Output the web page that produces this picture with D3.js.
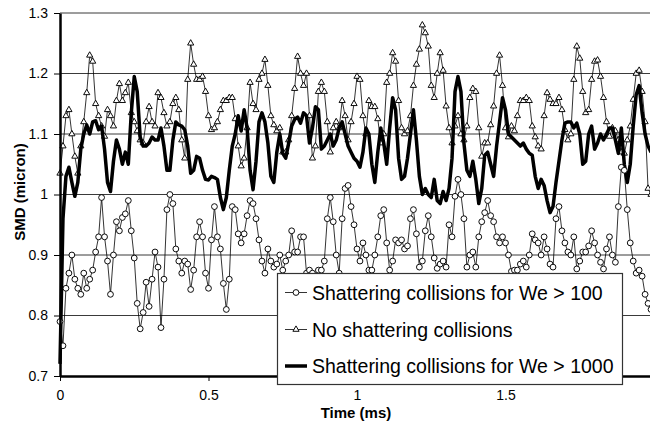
<!DOCTYPE html>
<html>
<head>
<meta charset="utf-8">
<script src="https://cdn.jsdelivr.net/npm/d3@7"></script>
<style>
  body { margin: 0; background: #fff; }
  text { font-family: "Liberation Sans", Arial, sans-serif; }
</style>
</head>
<body>
<script>
var svgWidth = 650;
var svgHeight = 424;

// time step between samples (ms)
var timeStep = 0.01;

var xTicks = [0, 0.5, 1, 1.5, 2];
var xTickLabels = ["0", "0.5", "1", "1.5", "2"];
var yTicks = [0.7, 0.8, 0.9, 1.0, 1.1, 1.2, 1.3];
var yTickLabels = ["0.7", "0.8", "0.9", "1", "1.1", "1.2", "1.3"];
var gridValues = [0.8, 0.9, 1.0, 1.1, 1.2, 1.3];

var seriesNames = [
  "Shattering collisions for We > 100",
  "No shattering collisions",
  "Shattering collisions for We > 1000"
];

// SMD (micron), shattering for We > 100 (circles)
var smdWe100 = [
  0.79, 0.75, 0.845, 0.87, 0.9, 0.86, 0.845, 0.835, 0.87, 0.845,
  0.86, 0.875, 0.905, 0.93, 0.995, 0.93, 0.89, 0.835, 0.9, 0.955,
  0.94, 0.962, 0.968, 0.99, 0.94, 0.895, 0.82, 0.778, 0.805, 0.855,
  0.815, 0.86, 0.905, 0.88, 0.78, 0.86, 0.975, 1.0, 0.985, 0.91,
  0.89, 0.87, 0.89, 0.885, 0.843, 0.875, 0.93, 0.955, 0.93, 0.87,
  0.845, 0.925, 0.98, 0.93, 0.91, 0.853, 0.81, 0.86, 0.98, 0.975,
  0.935, 0.92, 0.935, 0.965, 0.99, 0.985, 0.96, 0.925, 0.89, 0.87,
  0.91, 0.89, 0.88, 0.885, 0.9, 0.875, 0.89, 0.9, 0.94, 0.905,
  0.905, 0.93, 0.93, 0.87, 0.875, 0.87, 0.865, 0.875, 0.875, 0.89,
  0.96, 0.995, 0.955, 0.9, 0.87, 0.96, 1.01, 1.015, 0.98, 0.95,
  0.91, 0.89, 0.92, 0.9, 0.875, 0.875, 0.9, 0.93, 0.965, 0.975,
  0.92, 0.875, 0.89, 0.925, 0.92, 0.925, 0.91, 0.915, 0.96, 0.975,
  0.935, 0.88, 0.89, 0.94, 0.965, 0.93, 0.895, 0.878, 0.885, 0.89,
  0.88, 0.95, 0.93, 0.997, 1.025, 1.0, 0.96, 0.88, 0.9, 0.905,
  0.88, 0.93, 0.955, 0.97, 0.99, 0.965, 0.955, 0.93, 0.92, 0.93,
  0.92, 0.9, 0.873, 0.875, 0.875, 0.885, 0.89, 0.88, 0.9, 0.935,
  0.925, 0.92, 0.9, 0.93, 0.91, 0.885, 0.88, 0.96, 0.98, 0.94,
  0.92, 0.905, 0.9, 0.93, 0.877, 0.89, 0.905, 0.905, 0.915, 0.94,
  0.92, 0.9, 0.888, 0.877, 0.91, 0.93, 0.9, 0.888, 0.98, 1.045,
  1.04, 0.975, 0.92, 0.89, 0.87, 0.875, 0.865, 0.835, 0.82, 0.81
];

// SMD (micron), no shattering (triangles)
var smdNoShatter = [
  1.035, 1.08, 1.13, 1.14, 1.10, 1.063, 1.035, 1.08, 1.12, 1.168,
  1.23, 1.22, 1.15, 1.13, 1.113, 1.096, 1.14, 1.13, 1.113, 1.155,
  1.183, 1.155, 1.168, 1.185, 1.135, 1.12, 1.105, 1.09, 1.085, 1.12,
  1.145, 1.12, 1.113, 1.168, 1.16, 1.135, 1.113, 1.12, 1.15, 1.16,
  1.14, 1.09, 1.06, 1.19, 1.25, 1.215, 1.19, 1.19, 1.195, 1.17,
  1.13, 1.107, 1.11, 1.12, 1.14, 1.155, 1.155, 1.16, 1.16, 1.125,
  1.08, 1.047, 1.06, 1.11, 1.185, 1.15, 1.14, 1.19, 1.2, 1.223,
  1.18, 1.13, 1.115, 1.105, 1.11, 1.07, 1.07, 1.09, 1.13, 1.175,
  1.228, 1.2, 1.18, 1.2, 1.13, 1.06, 1.08, 1.17, 1.185, 1.17,
  1.12, 1.07, 1.11, 1.12, 1.11, 1.155, 1.13, 1.09, 1.12, 1.15,
  1.195, 1.19, 1.13, 1.1, 1.155, 1.145, 1.145, 1.125, 1.085, 1.1,
  1.185, 1.2, 1.234, 1.22, 1.155, 1.11, 1.1, 1.105, 1.13, 1.18,
  1.215, 1.24, 1.28, 1.267, 1.245, 1.18, 1.16, 1.2, 1.234, 1.205,
  1.146, 1.11, 1.085, 1.113, 1.13, 1.1, 1.09, 1.113, 1.16, 1.175,
  1.17, 1.11, 1.063, 1.085, 1.085, 1.115, 1.146, 1.2, 1.23, 1.18,
  1.11, 1.095, 1.113, 1.105, 1.13, 1.155, 1.155, 1.16, 1.155, 1.113,
  1.095, 1.08, 1.075, 1.13, 1.168, 1.157, 1.15, 1.15, 1.16, 1.14,
  1.107, 1.09, 1.1, 1.19, 1.245, 1.225, 1.17, 1.135, 1.14, 1.19,
  1.22, 1.222, 1.195, 1.16, 1.12, 1.096, 1.11, 1.105, 1.09, 1.07,
  1.068, 1.09, 1.113, 1.157, 1.2, 1.205, 1.17, 1.12, 1.01, 1.0
];

// SMD (micron), shattering for We > 1000 (thick line)
var smdWe1000 = [
  0.72, 0.96, 1.03, 1.045, 1.02, 0.997, 1.02, 1.075, 1.1, 1.115,
  1.1, 1.12, 1.122, 1.107, 1.113, 1.075, 1.02, 1.005, 1.055, 1.09,
  1.075, 1.05, 1.07, 1.05, 1.135, 1.195, 1.17, 1.095, 1.08, 1.08,
  1.085, 1.095, 1.09, 1.09, 1.11, 1.08, 1.04, 1.04, 1.09, 1.12,
  1.115, 1.113, 1.107, 1.08, 1.035, 1.04, 1.063, 1.06, 1.04, 1.025,
  1.024, 1.03, 1.028, 1.025, 0.995, 0.975, 0.995, 1.04, 1.08, 1.1,
  1.13, 1.105, 1.14, 1.11, 1.04, 1.008, 1.055, 1.12, 1.135, 1.12,
  1.085, 1.03, 1.02, 1.07, 1.1, 1.068, 1.06, 1.085, 1.113, 1.124,
  1.128, 1.118, 1.135, 1.13, 1.085, 1.11, 1.145, 1.14, 1.075, 1.08,
  1.09, 1.1, 1.08, 1.09, 1.11, 1.12, 1.1, 1.08, 1.07, 1.06,
  1.055, 1.045, 1.07, 1.11, 1.1, 1.05, 1.02, 1.07, 1.11, 1.085,
  1.05, 1.11, 1.16, 1.14, 1.06, 1.025, 1.03, 1.06, 1.1, 1.14,
  1.09, 1.03, 1.0, 1.01, 1.0, 0.995, 1.025, 0.99, 0.985, 1.005,
  0.99, 1.01, 1.06, 1.17, 1.195, 1.17, 1.085, 1.04, 1.03, 1.055,
  1.025, 0.985, 1.01, 1.065, 1.07, 1.05, 1.03, 1.08, 1.12, 1.16,
  1.14, 1.1, 1.095, 1.09, 1.085, 1.08, 1.085, 1.075, 1.068, 1.065,
  1.03, 1.01, 1.025, 1.015, 0.99, 0.97, 0.98, 1.02, 1.055, 1.09,
  1.118, 1.12, 1.12, 1.11, 1.118, 1.1, 1.05, 1.055, 1.1, 1.113,
  1.075, 1.085, 1.1, 1.09, 1.1, 1.11, 1.11, 1.09, 1.068, 1.11,
  1.05, 1.02, 1.05, 1.113, 1.165, 1.18, 1.135, 1.1, 1.08, 1.07
];

var svg = d3.select("body")
  .append("svg")
  .attr("width", svgWidth)
  .attr("height", svgHeight);

var xScale = d3.scaleLinear().domain([0, 2]).range([60, 654]);
var yScale = d3.scaleLinear().domain([0.7, 1.3]).range([376, 13]);

function toPoints(values) {
  return values.map(function(v, i) { return { t: i * timeStep, v: v }; });
}

// gridlines
svg.append("g")
  .selectAll("line")
  .data(gridValues)
  .enter()
  .append("line")
  .attr("x1", 60)
  .attr("x2", svgWidth)
  .attr("y1", d => yScale(d))
  .attr("y2", d => yScale(d))
  .attr("stroke", "#3a3a3a")
  .attr("stroke-width", 1);

var line = d3.line()
  .x(d => xScale(d.t))
  .y(d => yScale(d.v));

var triPath = "M0,-3.6L3.1,1.8L-3.1,1.8Z";

// no shattering: thin line + triangles
var noShatter = toPoints(smdNoShatter);
svg.append("path")
  .datum(noShatter)
  .attr("d", line)
  .attr("fill", "none")
  .attr("stroke", "#000")
  .attr("stroke-width", 0.8);

svg.append("g")
  .selectAll("path")
  .data(noShatter)
  .enter()
  .append("path")
  .attr("d", triPath)
  .attr("transform", d => `translate(${xScale(d.t)},${yScale(d.v)})`)
  .attr("fill", "#fff")
  .attr("stroke", "#000")
  .attr("stroke-width", 0.95);

// We > 1000: thick line
svg.append("path")
  .datum(toPoints(smdWe1000))
  .attr("d", line)
  .attr("fill", "none")
  .attr("stroke", "#000")
  .attr("stroke-width", 3.5)
  .attr("stroke-linejoin", "round");

// We > 100: thin line + circles
var we100 = toPoints(smdWe100);
svg.append("path")
  .datum(we100)
  .attr("d", line)
  .attr("fill", "none")
  .attr("stroke", "#000")
  .attr("stroke-width", 0.8);

svg.append("g")
  .selectAll("circle")
  .data(we100)
  .enter()
  .append("circle")
  .attr("cx", d => xScale(d.t))
  .attr("cy", d => yScale(d.v))
  .attr("r", 2.9)
  .attr("fill", "#fff")
  .attr("stroke", "#000")
  .attr("stroke-width", 0.95);

// axes
var LeftAxe = d3.axisLeft(yScale)
  .tickValues(yTicks)
  .tickFormat((d, i) => yTickLabels[i])
  .tickSize(6)
  .tickSizeOuter(0)
  .tickPadding(6);

var BotAxe = d3.axisBottom(xScale)
  .tickValues(xTicks)
  .tickFormat((d, i) => xTickLabels[i])
  .tickSize(5)
  .tickSizeOuter(0)
  .tickPadding(9);

var gy = svg.append("g")
  .attr("transform", "translate(60,0)")
  .call(LeftAxe);

var gx = svg.append("g")
  .attr("transform", "translate(0,376)")
  .call(BotAxe);

[gx, gy].forEach(function(g) {
  g.select(".domain").attr("stroke", "#000").attr("stroke-width", 2.5);
  g.selectAll(".tick line").attr("stroke", "#000").attr("stroke-width", 1);
  g.selectAll(".tick text")
    .attr("fill", "#000")
    .style("font-size", "14px")
    .style("font-family", "'Liberation Sans', Arial, sans-serif");
});

// axis titles
svg.append("text")
  .attr("transform", "rotate(-90)")
  .attr("x", -192)
  .attr("y", 25)
  .style("text-anchor", "middle")
  .style("font-size", "15px")
  .style("font-weight", "bold")
  .text("SMD (micron)");

svg.append("text")
  .attr("x", 356)
  .attr("y", 418)
  .style("text-anchor", "middle")
  .style("font-size", "15px")
  .style("font-weight", "bold")
  .text("Time (ms)");

// legend
var legend = svg.append("g");
legend.append("rect")
  .attr("x", 277.5)
  .attr("y", 273.5)
  .attr("width", 345)
  .attr("height", 111)
  .attr("fill", "#fff")
  .attr("stroke", "#333")
  .attr("stroke-width", 1.2);

var rowY = [292.5, 329.5, 366];

seriesNames.forEach(function(name, i) {
  var y0 = rowY[i];
  legend.append("line")
    .attr("x1", 285).attr("x2", 307)
    .attr("y1", y0).attr("y2", y0)
    .attr("stroke", "#000")
    .attr("stroke-width", i === 2 ? 3.5 : 0.8);
  if (i === 0) {
    legend.append("circle")
      .attr("cx", 296).attr("cy", y0).attr("r", 2.9)
      .attr("fill", "#fff").attr("stroke", "#000").attr("stroke-width", 0.95);
  } else if (i === 1) {
    legend.append("path")
      .attr("d", triPath)
      .attr("transform", `translate(296,${y0})`)
      .attr("fill", "#fff").attr("stroke", "#000").attr("stroke-width", 0.95);
  }
  legend.append("text")
    .attr("x", 312)
    .attr("y", y0 + 7)
    .style("font-size", "19.5px")
    .text(name);
});
</script>
</body>
</html>
